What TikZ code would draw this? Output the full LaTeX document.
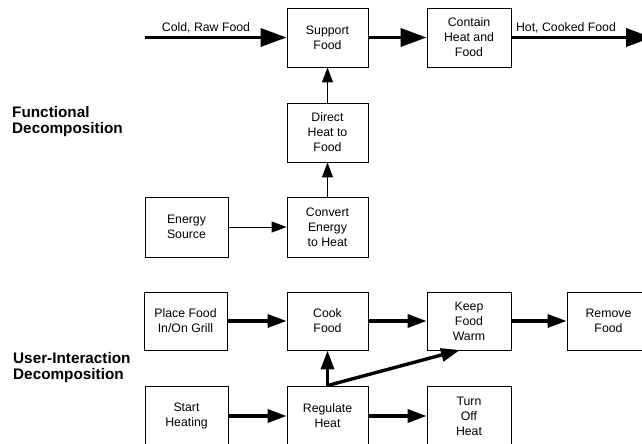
\documentclass[tikz,border=0pt]{standalone}
\usepackage{fontspec}
\setmainfont{Liberation Sans}
\usetikzlibrary{arrows.meta}
\begin{document}
\begin{tikzpicture}[x=1pt,y=-1pt,
  fbox/.style={draw=black, line width=0.9pt, inner sep=0pt, align=center,
    font=\fontsize{12.3}{15}\selectfont},
  big/.style={line width=3.6pt, -{Triangle[length=26pt,width=18pt]}},
  mid/.style={line width=3.4pt, -{Triangle[length=19pt,width=13pt]}},
  thin/.style={line width=1pt, -{Triangle[length=15pt,width=11pt]}},
  lbl/.style={inner sep=0pt, font=\fontsize{12.3}{15}\selectfont},
  head/.style={inner sep=0pt, anchor=north west, align=left,
    font=\bfseries\fontsize{15.3}{16}\selectfont}]
\useasboundingbox[fill=white] (0,0) rectangle (642,444);

% functional decomposition
\node[fbox, minimum width=81pt, minimum height=59pt] (sup) at (327.5,37.5) {Support\\Food};
\node[fbox, minimum width=84pt, minimum height=59pt] (con) at (469,37.5) {Contain\\Heat and\\Food};
\node[fbox, minimum width=81pt, minimum height=59pt] (dir) at (327.5,132.5) {Direct\\Heat to\\Food};
\node[fbox, minimum width=81pt, minimum height=60pt] (cnv) at (327.5,227) {Convert\\Energy\\to Heat};
\node[fbox, minimum width=83pt, minimum height=60pt] (ene) at (186.5,227) {Energy\\Source};

\coordinate (cin) at (145,37.5);
\coordinate (cout) at (652,37.5);
\draw[big] (cin) -- (sup.west);
\draw[big] (sup.east) -- (con.west);
\draw[big] (con.east) -- (cout);
\node[lbl, anchor=base] (coldl) at (206,32) {Cold, Raw Food};
\node[lbl, anchor=base] (hotl) at (566,32) {Hot, Cooked Food};

\draw[thin] (ene.east) -- (cnv.west);
\draw[thin] (cnv.north) -- (dir.south);
\draw[thin] (dir.north) -- (sup.south);

\node[head] (fd) at (12,106) {Functional\\Decomposition};

% user-interaction decomposition
\node[fbox, minimum width=83pt, minimum height=58pt] (pla) at (185.5,321) {Place Food\\In/On Grill};
\node[fbox, minimum width=81pt, minimum height=58pt] (cook) at (327.5,321) {Cook\\Food};
\node[fbox, minimum width=84pt, minimum height=58pt] (keep) at (469,321) {Keep\\Food\\Warm};
\node[fbox, minimum width=83pt, minimum height=58pt] (rem) at (608.5,321) {Remove\\Food};
\node[fbox, minimum width=83pt, minimum height=60pt] (start) at (186.5,416) {Start\\Heating};
\node[fbox, minimum width=81pt, minimum height=60pt] (reg) at (327.5,416) {Regulate\\Heat};
\node[fbox, minimum width=84pt, minimum height=60pt] (turn) at (469,416) {Turn\\Off\\Heat};

\draw[mid] (pla.east) -- (cook.west);
\draw[mid] (cook.east) -- (keep.west);
\draw[mid] (keep.east) -- (rem.west);
\draw[mid] (start.east) -- (reg.west);
\draw[mid] (reg.east) -- (turn.west);
\draw[mid] (reg.north) -- (cook.south);
\coordinate (kin) at (460,350);
\draw[mid] (reg.north) -- (kin);

\node[head] (ud) at (13,352) {User-Interaction\\Decomposition};
\end{tikzpicture}
\end{document}
